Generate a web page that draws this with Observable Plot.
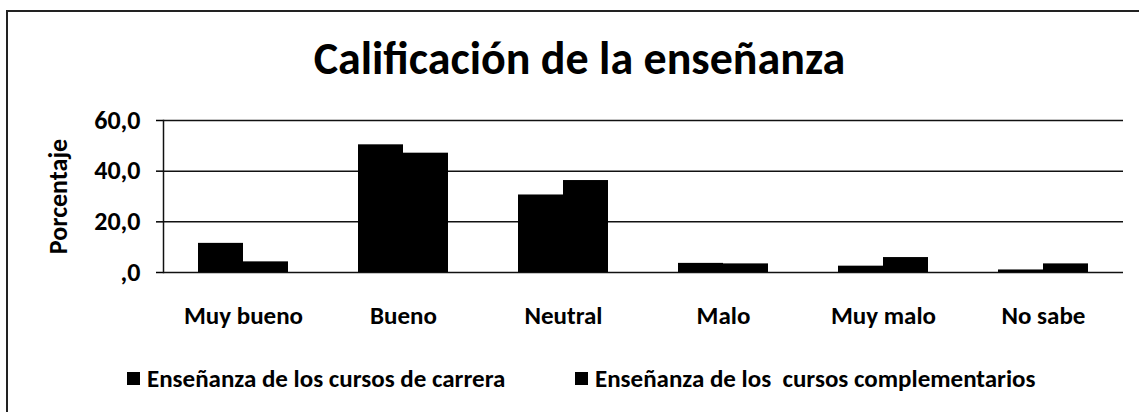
<!DOCTYPE html>
<html><head><meta charset="utf-8">
<script src="https://cdn.jsdelivr.net/npm/d3@7"></script>
<script src="https://cdn.jsdelivr.net/npm/@observablehq/plot@0.6"></script>
<style>
body{margin:0;background:#fff;font-family:Carlito,Lato,sans-serif;font-weight:bold;color:#000}
#wrap{position:relative;width:1139px;height:412px;overflow:hidden;background:#fff}
#border{position:absolute;left:6px;top:10px;width:1300px;height:600px;border-left:2px solid #222;border-top:2px solid #222}
#title{position:absolute;left:20px;width:1119px;top:35px;text-align:center;font-size:46px;line-height:46px;font-weight:900}
#chart{position:absolute;left:0;top:90px}
.item{position:absolute;top:366px;font-size:25px;line-height:25px;display:flex;align-items:center;white-space:pre}
.sw{display:inline-block;width:13px;height:13px;background:#000;margin-right:7px}
</style></head>
<body>
<div id="wrap">
<div id="border"></div>
<div id="title">Calificación de la enseñanza</div>
<div id="chart"></div>
<div id="legend"></div>
</div>
<script>
const categorias = ["Muy bueno", "Bueno", "Neutral", "Malo", "Muy malo", "No sabe"];
const series = ["Enseñanza de los cursos de carrera", "Enseñanza de los  cursos complementarios"];
const carrera = [11.5, 50.4, 30.6, 3.6, 2.5, 1.0];
const complementarios = [4.2, 47.1, 36.3, 3.4, 5.9, 3.4];
const yTicks = [0, 20, 40, 60];

const data = categorias.flatMap((c, i) => [
  {cat: c, serie: series[0], valor: carrera[i]},
  {cat: c, serie: series[1], valor: complementarios[i]}
]);
const fmt = d => d === 0 ? ",0" : d.toFixed(1).replace(".", ",");

const chart = Plot.plot({
  width: 1139, height: 242,
  marginLeft: 160, marginRight: 14, marginTop: 30, marginBottom: 60,
  style: {fontFamily: "Carlito, Lato, sans-serif", fontWeight: "bold", fontSize: "25px", color: "#000", background: "transparent"},
  fx: {domain: categorias, padding: 0, label: null},
  x: {domain: series, paddingInner: 0, paddingOuter: 0.74, axis: null},
  y: {domain: [0, 60], axis: null},
  marks: [
    Plot.ruleY(yTicks, {stroke: "#111", strokeWidth: 1.5}),
    Plot.barY(data, {fx: "cat", x: "serie", y: "valor", fill: "#000"}),
    Plot.axisFx({anchor: "bottom", tickSize: 0, tickPadding: 34, fontSize: 25, label: null}),
    Plot.axisY(yTicks, {anchor: "left", tickSize: 7, tickPadding: 16, strokeWidth: 1.5, tickFormat: fmt, fontSize: 26,
      label: "Porcentaje", labelAnchor: "center", labelOffset: 115, labelArrow: false}),
    Plot.frame({anchor: "left", fx: () => categorias[0], stroke: "#111", strokeWidth: 1.5})
  ]
});
document.getElementById("chart").appendChild(chart);

const legend = document.getElementById("legend");
const legendLeft = [127, 575];
series.forEach((s, i) => {
  const it = document.createElement("div");
  it.className = "item";
  it.style.left = legendLeft[i] + "px";
  it.innerHTML = '<span class="sw"></span>';
  it.appendChild(document.createTextNode(s));
  legend.appendChild(it);
});
</script>
</body></html>
